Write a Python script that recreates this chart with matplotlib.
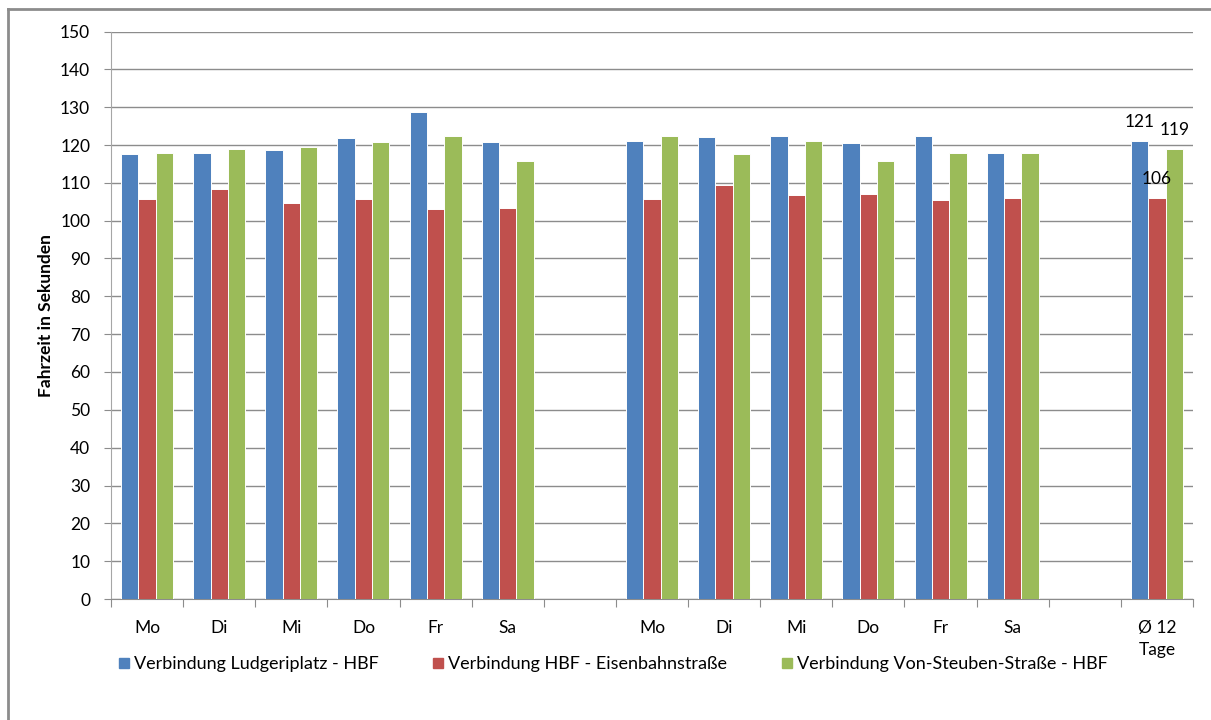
import numpy as np
import matplotlib
matplotlib.use("Agg")
import matplotlib.pyplot as plt
from matplotlib.lines import Line2D

plt.rcParams['font.family'] = ['Lato', 'DejaVu Sans']

categories = ['Mo', 'Di', 'Mi', 'Do', 'Fr', 'Sa', '',
              'Mo', 'Di', 'Mi', 'Do', 'Fr', 'Sa', '', 'Ø 12\nTage']
nan = np.nan
ludgeri = [117.5, 118.0, 118.7, 121.8, 128.8, 120.8, nan,
           121.1, 122.1, 122.3, 120.6, 122.3, 118.0, nan, 121]
eisenbahn = [105.8, 108.5, 104.7, 105.8, 103.2, 103.4, nan,
             105.8, 109.3, 106.8, 107.0, 105.5, 106.1, nan, 106]
steuben = [118.0, 119.0, 119.5, 120.8, 122.3, 115.7, nan,
           122.3, 117.5, 121.1, 115.9, 117.8, 117.8, nan, 119]
series_names = ['Verbindung Ludgeriplatz - HBF',
                'Verbindung HBF - Eisenbahnstraße',
                'Verbindung Von-Steuben-Straße - HBF']
colors = ['#4F81BD', '#C0504D', '#9BBB59']
y_ticks = list(range(0, 151, 10))

fig = plt.figure(figsize=(12.11, 7.2), dpi=100)
ax = fig.add_axes([111/1211, 1-599/720, (1193-111)/1211, (599-31.5)/720])

x = np.arange(len(categories))
w = 0.24
all_series = [ludgeri, eisenbahn, steuben]
for i, (vals, c) in enumerate(zip(all_series, colors)):
    ax.bar(x + (i-1)*w, vals, width=w, color=c, edgecolor='white',
           linewidth=0.7, zorder=3, label=series_names[i])

# data labels for the average group
last = len(categories) - 1
for i, vals in enumerate(all_series):
    ax.annotate(f"{vals[last]:.0f}", (x[last] + (i-1)*w, vals[last]),
                xytext=(0, 8), textcoords='offset points',
                ha='center', va='bottom', fontsize=12.5, color='black', zorder=5)

ax.set_xlim(-0.5, len(categories)-0.5)
ax.set_ylim(0, 150)
ax.set_yticks(y_ticks)
ax.tick_params(axis='y', labelsize=12.5, length=5, color='#8C8C8C', pad=10)
ax.yaxis.grid(True, color='#8C8C8C', linewidth=1, zorder=0)
ax.set_axisbelow(True)

ax.set_xticks(np.arange(-0.5, len(categories), 1.0))
ax.set_xticklabels([])
ax.tick_params(axis='x', which='major', length=6, color='#8C8C8C')
ax.set_xticks(x, minor=True)
ax.set_xticklabels(categories, minor=True, fontsize=12.5, va='top', linespacing=1.5)
ax.tick_params(axis='x', which='minor', length=0, pad=15)

for s in ['top', 'right']:
    ax.spines[s].set_visible(False)
ax.spines['left'].set_color('#A6A6A6')
ax.spines['bottom'].set_color('#8C8C8C')

ax.set_ylabel('Fahrzeit in Sekunden', fontsize=12.5, fontweight='bold', labelpad=4)

# legend
handles = [Line2D([], [], marker='s', linestyle='none', markersize=7.5,
                  markerfacecolor=c, markeredgecolor=c) for c in colors]
fig.legend(handles, series_names, loc='center left',
           bbox_to_anchor=(115/1211, 1-664/720), ncol=3, frameon=False,
           fontsize=13, handletextpad=0.05, columnspacing=2.8, handlelength=1.0,
           borderpad=0, borderaxespad=0)

# outer border
fig.add_artist(Line2D([7.5/1211, 7.5/1211], [0, 1-9/720], transform=fig.transFigure,
                      color='#8C8C8C', linewidth=2))
fig.add_artist(Line2D([7.5/1211, 1], [1-9/720, 1-9/720], transform=fig.transFigure,
                      color='#8C8C8C', linewidth=2))

fig.savefig('out.png', dpi=100)
